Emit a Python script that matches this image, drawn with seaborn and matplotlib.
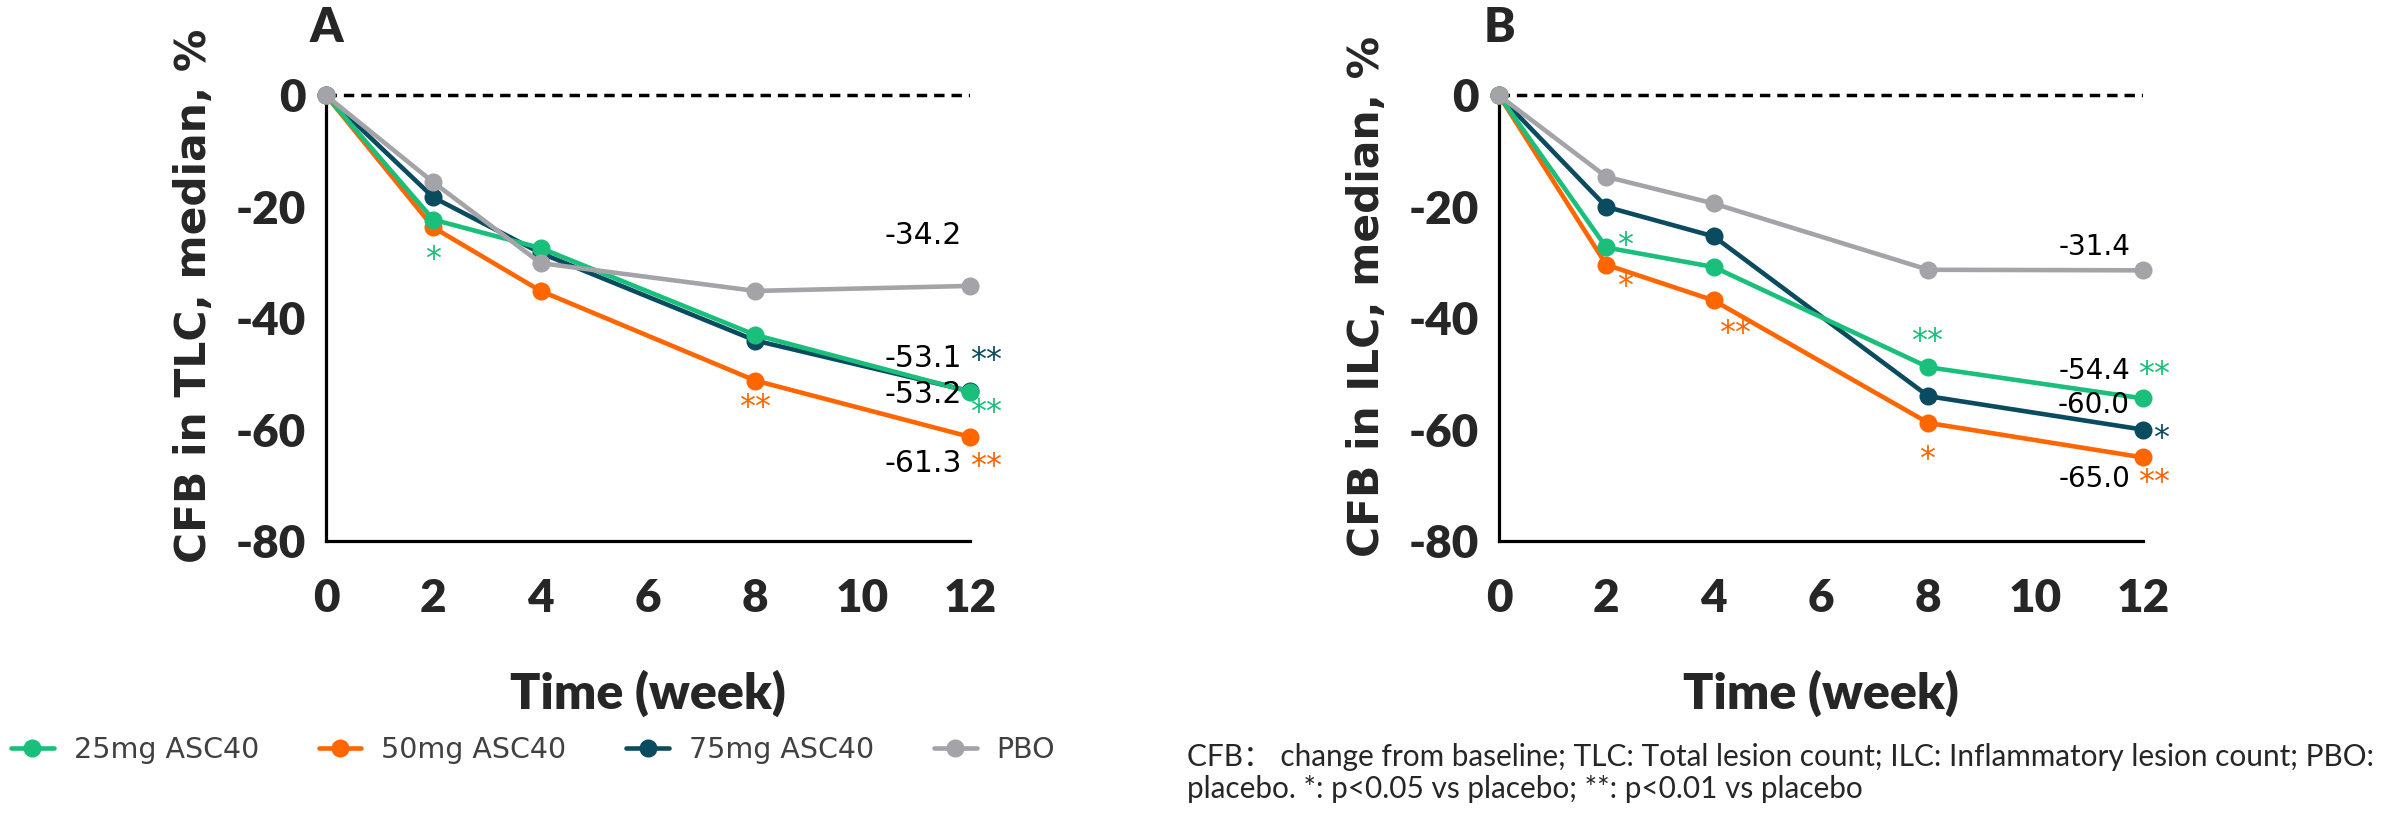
import numpy as np
import pandas as pd
import matplotlib
matplotlib.use('Agg')
import matplotlib.pyplot as plt
from matplotlib.lines import Line2D
import seaborn as sns

# data
weeks = [0, 2, 4, 8, 12]
groups = ['25mg ASC40', '50mg ASC40', '75mg ASC40', 'PBO']

tlc_25 = [0, -22.3, -27.4, -43.0, -53.2]
tlc_50 = [0, -23.7, -35.1, -51.2, -61.3]
tlc_75 = [0, -18.3, -28.3, -44.0, -53.1]
tlc_pbo = [0, -15.6, -30.1, -35.1, -34.2]

ilc_25 = [0, -27.3, -30.8, -48.8, -54.4]
ilc_50 = [0, -30.4, -36.8, -58.8, -65.0]
ilc_75 = [0, -20.0, -25.3, -54.0, -60.0]
ilc_pbo = [0, -14.6, -19.4, -31.3, -31.4]

# end labels (text, y) and significance stars (text, group, x, y, ha)
tlc_labels = [('-34.2', -25.2), ('-53.1', -47.3), ('-53.2', -53.7), ('-61.3', -66.0)]
tlc_stars = [('*', '25mg ASC40', 2, -29.5, 'center'),
             ('**', '50mg ASC40', 8, -56.0, 'center'),
             ('**', '75mg ASC40', 12.0, -47.6, 'left'),
             ('**', '25mg ASC40', 12.0, -57.0, 'left'),
             ('**', '50mg ASC40', 12.0, -66.6, 'left')]
ilc_labels = [('-31.4', -27.3), ('-54.4', -49.5), ('-60.0', -55.6), ('-65.0', -68.9)]
ilc_stars = [('*', '25mg ASC40', 2.34, -27.0, 'center'),
             ('*', '50mg ASC40', 2.34, -34.3, 'center'),
             ('**', '50mg ASC40', 4.4, -42.8, 'center'),
             ('**', '25mg ASC40', 7.98, -44.1, 'center'),
             ('*', '50mg ASC40', 7.98, -65.4, 'center'),
             ('**', '25mg ASC40', 11.9, -50.1, 'left'),
             ('*', '75mg ASC40', 12.33, -61.6, 'center'),
             ('**', '50mg ASC40', 11.9, -69.5, 'left')]

colors = {'25mg ASC40': '#19BF7A', '50mg ASC40': '#FF6600',
          '75mg ASC40': '#0B4B5F', 'PBO': '#A3A3A8'}

sns.set_style('white')
plt.rcParams['axes.unicode_minus'] = False
plt.rcParams['font.family'] = ['Lato', 'DejaVu Sans']

fig = plt.figure(figsize=(23.84, 8.14), dpi=100)
W, H = 2384, 814


def make_df(a, b, c, d):
    rows = []
    for g, vals in zip(groups, [a, b, c, d]):
        for w, v in zip(weeks, vals):
            rows.append({'week': w, 'cfb': v, 'group': g})
    return pd.DataFrame(rows)


def draw(ax, df, ylabel, labels, label_x, stars, label_size):
    ax.axhline(0, xmin=0, xmax=1, color='black', ls=(0, (3, 2)), lw=2.5, zorder=1)
    sns.lineplot(data=df, x='week', y='cfb', hue='group',
                 hue_order=['75mg ASC40', '50mg ASC40', '25mg ASC40', 'PBO'],
                 palette=colors, marker='o', markersize=13, markeredgewidth=0,
                 linewidth=3.3, legend=False, ax=ax, clip_on=False, zorder=3)
    ax.set_xlim(0, 12)
    ax.set_ylim(-80, 0.8)
    ax.set_xticks([0, 2, 4, 6, 8, 10, 12])
    ax.set_yticks([-80, -60, -40, -20, 0])
    ax.set_yticklabels(['-80', '-60', '-40', '-20', '0'])
    for t in ax.get_xticklabels() + ax.get_yticklabels():
        t.set_fontweight('heavy')
        t.set_fontsize(33)
    ax.tick_params(axis='both', length=11.5, width=2.3, color='black', direction='out')
    ax.tick_params(axis='x', pad=15)
    ax.tick_params(axis='y', pad=3)
    for s in ['top', 'right']:
        ax.spines[s].set_visible(False)
    for s in ['left', 'bottom']:
        ax.spines[s].set_linewidth(2.3)
        ax.spines[s].set_color('black')
    ax.set_xlabel('Time (week)', fontsize=36, fontweight='heavy', va='top')
    ax.xaxis.set_label_coords(0.5, -0.285)
    ax.set_ylabel(ylabel, fontsize=30.5, fontweight='bold', family='DejaVu Sans')
    ax.yaxis.set_label_coords(-0.172, 0.544)
    for txt, y in labels:
        ax.text(label_x, y, txt, ha='right', va='center', fontsize=label_size,
                family='DejaVu Sans', color='black', clip_on=False)
    for txt, g, x, y, ha in stars:
        ax.text(x, y, txt, ha=ha, va='center', fontsize=23, color=colors[g],
                family='DejaVu Sans', clip_on=False)


axA = fig.add_axes([326 / W, 1 - 541 / H, 644 / W, 450 / H])
axB = fig.add_axes([1499 / W, 1 - 541 / H, 644 / W, 450 / H])

draw(axA, make_df(tlc_25, tlc_50, tlc_75, tlc_pbo), 'CFB in TLC, median, %',
     tlc_labels, 11.85, tlc_stars, 21.5)
draw(axB, make_df(ilc_25, ilc_50, ilc_75, ilc_pbo), 'CFB in ILC, median, %',
     ilc_labels, 11.76, ilc_stars, 20)

fig.text(326 / W, 1 - 28 / H, 'A', ha='center', va='center', fontsize=34, fontweight='heavy')
fig.text(1499 / W, 1 - 28 / H, 'B', ha='center', va='center', fontsize=34, fontweight='heavy')

handles = [Line2D([], [], color=colors[g], marker='o', markersize=13, lw=3.3,
                  markeredgewidth=0) for g in groups]
fig.legend(handles, groups, loc='center left', bbox_to_anchor=(11 / W, 1 - 750 / H),
           ncol=4, frameon=False, handlelength=1.5, handletextpad=0.7,
           columnspacing=2.1, borderaxespad=0, borderpad=0, labelcolor='#404040',
           prop={'family': 'DejaVu Sans', 'size': 20.5})

foot_fam = ['Lato', 'Noto Sans CJK SC']
fig.text(1187 / W, 1 - 757 / H,
         'CFB： change from baseline; TLC: Total lesion count; ILC: Inflammatory lesion count; PBO:',
         ha='left', va='center', fontsize=21.4, family=foot_fam)
fig.text(1187 / W, 1 - 789 / H, 'placebo. *: p<0.05 vs placebo; **: p<0.01 vs placebo',
         ha='left', va='center', fontsize=21.4, family=foot_fam)

fig.savefig('out.png', dpi=100)
